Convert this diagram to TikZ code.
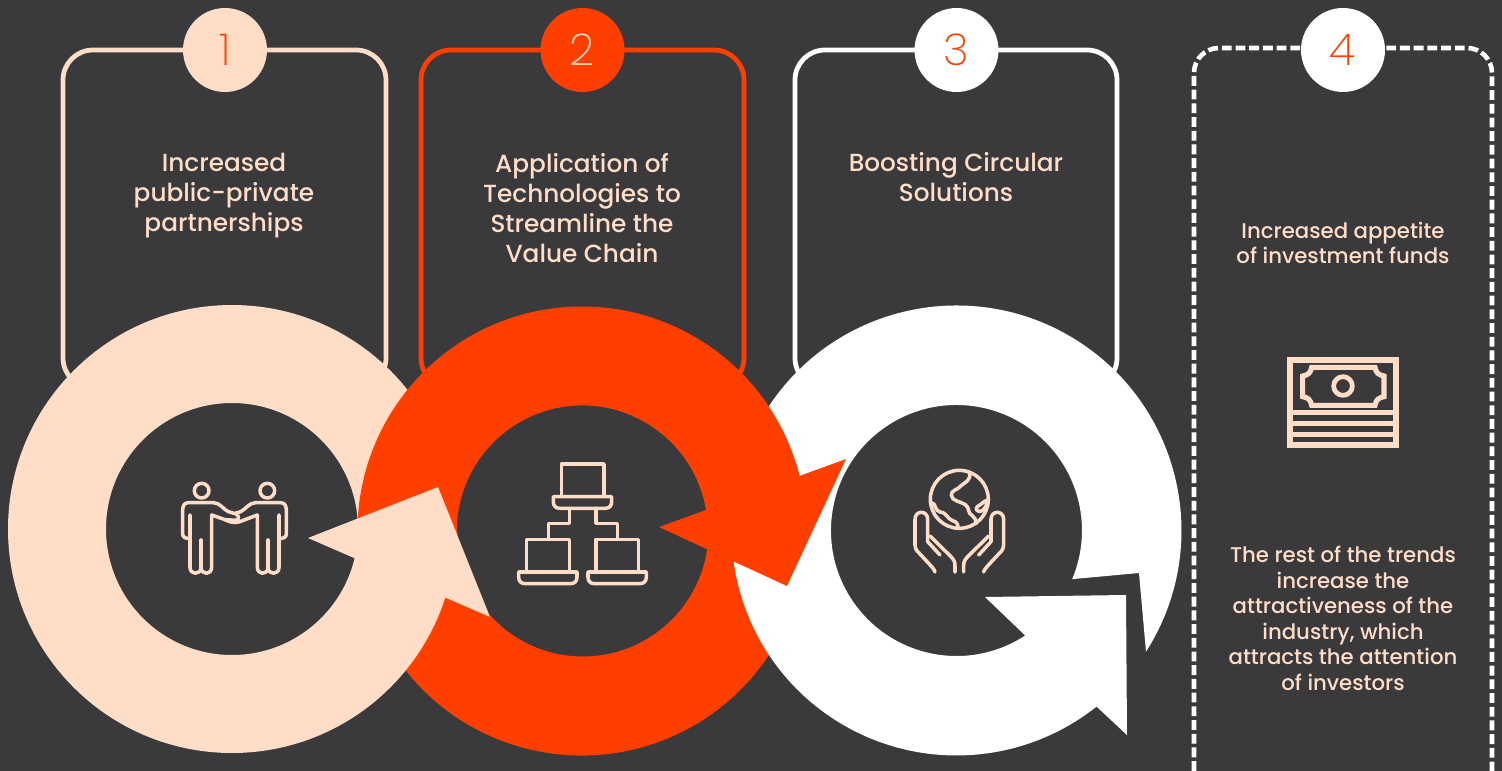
\documentclass[tikz,border=0pt]{standalone}
\usepackage{fontspec}
\setmainfont{Poppins Medium}
\newfontfamily\numfont{Poppins ExtraLight}
\usepackage{tikz}
\definecolor{bgdark}{HTML}{3A3A3C}
\definecolor{peach}{HTML}{FFDDC7}
\definecolor{flame}{HTML}{FF3F00}

\begin{document}
\begin{tikzpicture}[
  x=0.02cm,y=-0.02cm,
  frame/.style={line width=2.7pt,rounded corners=0.6cm},
  numdot/.style={circle,minimum size=1.68cm,inner sep=0pt,fill=#1},
  numtext/.style={text=#1,font=\numfont\fontsize{25}{25}\selectfont},
  heading/.style={text=peach,align=center,font=\fontsize{14.1}{17.1}\selectfont},
  subtext/.style={text=peach,align=center,font=\fontsize{12.1}{14.5}\selectfont},
  icon/.style={draw=peach,line width=2pt,line cap=round,line join=round},
  iconthick/.style={icon,line cap=butt,line join=miter,line width=2.9pt}
  ]
\def\Rout{224.5}
\def\Rin{125.5}
\fill[bgdark] (0,0) rectangle (1502,771);
\useasboundingbox (0,0) rectangle (1502,771);
% frames
\draw[frame,peach] (63,388) rectangle (386,50);
\draw[frame,flame] (421,388) rectangle (744,50);
\draw[frame,white] (795,388) rectangle (1117,50);
\draw[white,line width=2.6pt,dash pattern=on 5.6pt off 2.2pt,rounded corners=0.5cm]
  (1194,771) -- (1194,48) -- (1492,48) -- (1492,771);
% rings
\fill[flame] (707,549) -- (798,591) arc[start angle=15.5,end angle=185,radius=\Rout]
  -- ++(9.9,0.9) -- (457.5,531)
  arc[start angle=180,end angle=8.2,radius=\Rin] -- cycle;
\fill[peach,even odd rule] (232,529) circle (224) (232,529) circle (126);
\fill[white] (1146,651.7) arc[start angle=32.6,end angle=-308.5,radius=225]
  -- (1127,735) -- (1126,595) -- (985,597) -- (1025.2,635.5)
  arc[start angle=-303.2,end angle=22.8,radius=\Rin] -- (1139,573) -- cycle;
\fill[flame] (357.5,531) arc[start angle=180,end angle=345.8,radius=\Rout]
  -- (846,459) -- (787,586) -- (659,527) -- (706,510)
  arc[start angle=350.4,end angle=180,radius=\Rin] -- cycle;
\fill[peach] (308,538) -- (438,487) -- (490,617) -- cycle;
% numbers
\node[numdot=peach] (dot1) at (225,50){};
\node[numdot=flame] (dot2) at (582.5,50){};
\node[numdot=white] (dot3) at (956.5,50){};
\node[numdot=white] (dot4) at (1343,50){};
\node[numtext=flame] (num1) at (dot1){1};
\node[numtext=peach] (num2) at (dot2){2};
\node[numtext=flame] (num3) at (dot3){3};
\node[numtext=flame] (num4) at (dot4){4};
% texts
\node[heading] (title1) at (224,195.5){Increased\\public-private\\partnerships};
\node[heading] (title2) at (582,208){Application of\\Technologies to\\Streamline the\\Value Chain};
\node[heading] (title3) at (956,177){Boosting Circular\\Solutions};
\node[subtext] (title4) at (1343,243){Increased appetite\\of investment funds};
\node[subtext] (rest4) at (1343,618.5){The rest of the trends\\increase the\\attractiveness of the\\industry, which\\attracts the attention\\of investors};
% handshake
\def\person{
  \draw[icon] (125,92) circle (22);
  \draw[icon] (222,160) -- (205,155) .. controls (190,148) and (180,128) .. (160,128)
    -- (85,128) .. controls (72,128) and (68,140) .. (68,150) -- (68,222)
    .. controls (68,232) and (76,236) .. (90,235);
  \draw[icon] (90,165) -- (90,322) .. controls (90,345) and (120,345) .. (123,325)
    .. controls (126,345) and (155,345) .. (155,322) -- (155,165);
  \draw[icon] (123,240) -- (123,325);
}
\begin{scope}[shift={(160,460)},scale=0.3333]
\person
\draw[icon] (155,165) -- (195,179) -- (232,181);
\draw[icon] (292,165) -- (250,181) .. controls (235,188) and (220,192) .. (195,179);
\draw[icon] (225,160) .. controls (233,165) and (240,172) .. (232,181);
\end{scope}
\begin{scope}[shift={(309,460)},xscale=-0.3333,yscale=0.3333]
\person
\end{scope}
% network
\begin{scope}[shift={(500,450)},scale=0.3333]
\foreach \dx/\dy in {0/0,-104/226,104/226}{
  \draw[icon,shift={(\dx,\dy)}] (184,138) -- (184,42) -- (312,42) -- (312,138);
  \draw[icon,shift={(\dx,\dy)}] (160,140) -- (335,140) -- (335,155)
    .. controls (335,168) and (328,175) .. (315,175) -- (180,175)
    .. controls (167,175) and (160,168) .. (160,155) -- cycle;
}
\draw[icon] (208,175) -- (208,220) -- (145,220) -- (145,268);
\draw[icon] (288,175) -- (288,220) -- (352,220) -- (352,268);
\end{scope}
% globe and hands
\begin{scope}[shift={(890,460)},scale=0.3333]
\draw[icon] (208,118) circle (87);
\draw[icon] (238,36) .. controls (246,62) and (222,68) .. (212,78)
  .. controls (204,90) and (182,90) .. (184,106) .. controls (186,124) and (212,124) .. (226,134)
  .. controls (240,144) and (232,160) .. (246,166) .. controls (254,172) and (258,180) .. (260,190);
\draw[icon] (124,128) .. controls (140,130) and (132,152) .. (150,156)
  .. controls (172,158) and (170,176) .. (188,182) .. controls (202,186) and (204,194) .. (204,204);
\draw[icon] (294,120) .. controls (282,122) and (276,132) .. (262,140)
  .. controls (254,146) and (262,156) .. (272,154) .. controls (284,150) and (290,136) .. (294,120);
\foreach \sx in {1,-1}{
  \begin{scope}[shift={(208,0)},xscale=\sx]
  \draw[icon] (-73,336) .. controls (-75,328) and (-78,325) .. (-120,280)
    .. controls (-130,270) and (-133,265) .. (-133,255) -- (-133,178)
    .. controls (-133,150) and (-95,150) .. (-95,178) -- (-95,225);
  \draw[icon] (-95,225) -- (-95,245) -- (-58,285);
  \draw[icon] (-88,228) -- (-25,290) .. controls (-16,300) and (-13,305) .. (-13,318) -- (-13,336);
  \end{scope}
}
\end{scope}
% banknote
\begin{scope}[shift={(1270,340)},scale=0.3333]
\draw[iconthick] (60,60) rectangle (378,315);
\foreach \yy in {218,250,283}{
  \draw[iconthick] (60,\yy) -- (378,\yy);
}
\draw[iconthick] (125,82) -- (315,82) .. controls (318,98) and (325,105) .. (342,108)
  -- (342,170) .. controls (325,173) and (318,180) .. (315,196) -- (125,196)
  .. controls (122,180) and (115,173) .. (98,170) -- (98,108) .. controls (115,105) and (122,98) .. (125,82) -- cycle;
\draw[icon,line width=2.7pt] (219,138) circle (28);
\end{scope}
\end{tikzpicture}
\end{document}
